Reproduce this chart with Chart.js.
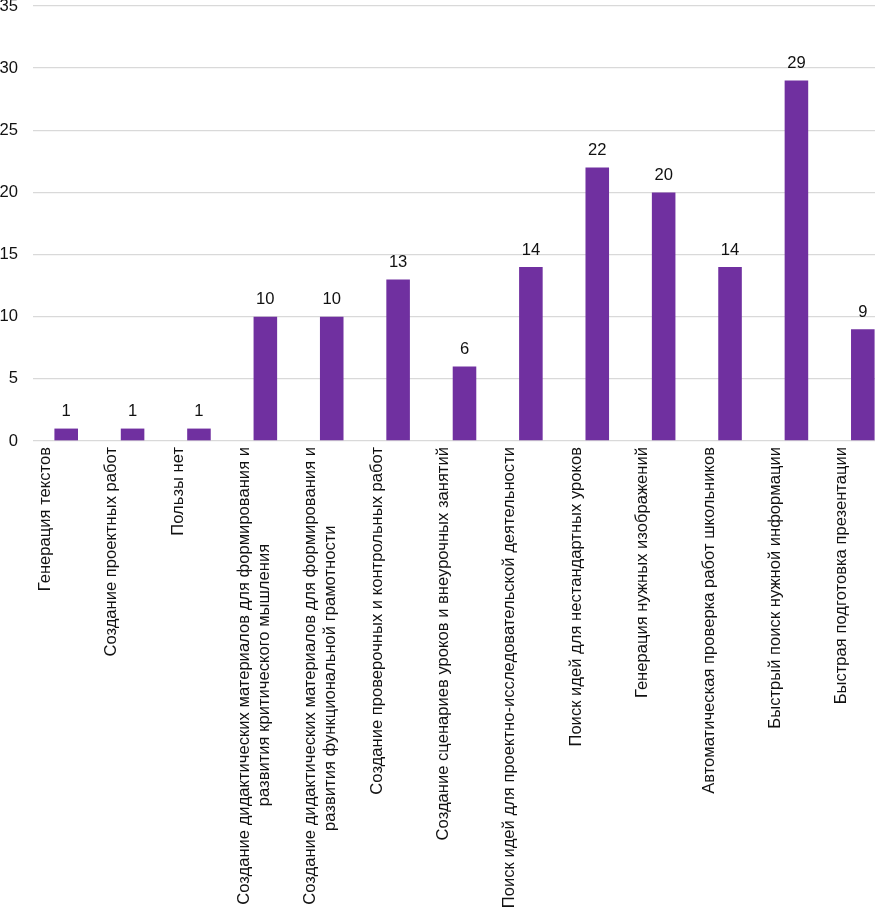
<!DOCTYPE html>
<html lang="ru">
<head>
<meta charset="utf-8">
<title>Польза ИИ</title>
<script src="https://cdn.jsdelivr.net/npm/chart.js@4.4.1/dist/chart.umd.min.js"></script>
<style>
  html, body { margin: 0; padding: 0; background: #fff; overflow: hidden; }
  #wrap { width: 896px; height: 916px; }
</style>
</head>
<body>
<div id="wrap"><canvas id="chart" width="896" height="916"></canvas></div>
<script>
// ─── DATA ───────────────────────────────
const categories = [
  ['Генерация текстов'],
  ['Создание проектных работ'],
  ['Пользы нет'],
  ['Создание дидактических материалов для формирования и', 'развития критического мышления'],
  ['Создание дидактических материалов для формирования и', 'развития функциональной грамотности'],
  ['Создание проверочных и контрольных работ'],
  ['Создание сценариев уроков и внеурочных занятий'],
  ['Поиск идей для проектно-исследовательской деятельности'],
  ['Поиск идей для нестандартных уроков'],
  ['Генерация нужных изображений'],
  ['Автоматическая проверка работ школьников'],
  ['Быстрый поиск нужной информации'],
  ['Быстрая подготовка презентации']
];
const values = [1, 1, 1, 10, 10, 13, 6, 14, 22, 20, 14, 29, 9];
const yTicks = [0, 5, 10, 15, 20, 25, 30, 35];

const FONT = '"Liberation Sans", Arial, sans-serif';
const SIZE = 16.6;
const BAR = '#7030a0';

// ─── CENTER MULTI-LINE LABELS ───────────
// rotated labels are right-aligned by Chart.js, so pad shorter lines with spaces
const measure = document.createElement('canvas').getContext('2d');
measure.font = SIZE + 'px ' + FONT;
const spaceW = measure.measureText(' ').width;
const labels = categories.map(lines => {
  if (lines.length < 2) return lines[0];
  const widths = lines.map(l => measure.measureText(l).width);
  const max = Math.max(...widths);
  return lines.map((l, i) => l + ' '.repeat(Math.round((max - widths[i]) / 2 / spaceW)));
});

// ─── VALUE LABELS ON TOP OF BARS ─────────
const valueLabels = {
  id: 'valueLabels',
  afterDatasetsDraw(chart) {
    const ctx = chart.ctx;
    const meta = chart.getDatasetMeta(0);
    ctx.save();
    ctx.font = SIZE + 'px ' + FONT;
    ctx.fillStyle = '#111';
    ctx.textAlign = 'center';
    ctx.textBaseline = 'alphabetic';
    meta.data.forEach((bar, i) => {
      ctx.fillText(String(values[i]), bar.x, bar.y - 12.5);
    });
    ctx.restore();
  }
};

// ─── BAR CHART ──────────────────────────
new Chart(document.getElementById('chart'), {
  type: 'bar',
  data: {
    labels: labels,
    datasets: [{
      data: values,
      backgroundColor: BAR,
      borderWidth: 0,
      barPercentage: 1,
      categoryPercentage: 0.355
    }]
  },
  options: {
    responsive: false,
    animation: false,
    devicePixelRatio: 1,
    layout: { padding: { top: 6, left: 0, right: 0, bottom: 0 } },
    plugins: {
      legend: { display: false },
      tooltip: { enabled: false }
    },
    scales: {
      x: {
        afterFit: axis => {
          axis.height = 475;
          axis.paddingLeft = axis.paddingRight = 0;
        },
        grid: { display: false, drawTicks: false },
        border: { display: false },
        ticks: {
          autoSkip: false,
          maxRotation: 90,
          minRotation: 90,
          padding: 6,
          labelOffset: -21,
          color: '#111',
          font: { family: FONT, size: SIZE, lineHeight: 1.2 }
        }
      },
      y: {
        min: 0,
        max: 35,
        afterBuildTicks: axis => { axis.ticks = yTicks.map(v => ({ value: v })); },
        afterFit: axis => {
          axis.width = 33;
          axis.paddingTop = axis.paddingBottom = 0;
        },
        grid: { color: '#d9d9d9', lineWidth: 1.3, drawTicks: false },
        border: { display: false },
        ticks: {
          padding: 15,
          color: '#111',
          font: { family: FONT, size: SIZE }
        }
      }
    }
  },
  plugins: [valueLabels]
});
</script>
</body>
</html>
